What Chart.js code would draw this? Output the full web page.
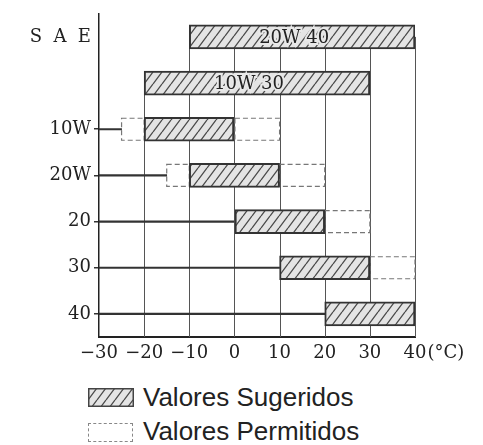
<!DOCTYPE html>
<html><head><meta charset="utf-8">
<script src="https://cdn.jsdelivr.net/npm/chart.js@4"></script>
<style>
html,body{margin:0;padding:0;background:#fff;width:483px;height:445px;overflow:hidden;}
#wrap{position:absolute;left:0;top:0;width:483px;height:370px;}
.lg{position:absolute;font-family:"Liberation Sans",Arial,sans-serif;font-size:26px;color:#222;line-height:30px;height:30px;white-space:nowrap;}
#sw2{position:absolute;left:88px;top:423px;width:43px;height:17px;border:1.5px dashed #888;}
</style></head><body>
<div id="wrap"><canvas id="c" width="483" height="370"></canvas></div>
<canvas id="sw1" width="46" height="19" style="position:absolute;left:88px;top:388px;"></canvas>
<div class="lg" id="lg1" style="left:143px;top:382px;"></div>
<div id="sw2"></div>
<div class="lg" id="lg2" style="left:143px;top:416px;"></div>
<script>
// ---- data ----
const categories = ['20W 40','10W 30','10W','20W','20','30','40'];
const yTickLabels = ['S  A  E','','10W','20W','20','30','40'];
const barLabels = ['20W 40','10W 30','','','','',''];
const suggestedFrom = [-10,-20,-20,-10,0,10,20];
const suggestedTo   = [40,30,0,10,20,30,40];
const permittedLowFrom  = [null,null,-25,-15,null,null,null];
const permittedLowTo    = [null,null,-20,-10,null,null,null];
const permittedHighFrom = [null,null,0,10,20,30,null];
const permittedHighTo   = [null,null,10,20,30,40,null];
const leaderTo = [null,null,-25,-15,0,10,20];
const xTickValues = [-30,-20,-10,0,10,20,30,40];
const xTickLabels = ['−30','−20','−10','0','10','20','30','40'];
const xUnit = '(°C)';
const legendLabels = ['Valores Sugeridos','Valores Permitidos'];

const X_MIN = xTickValues[0], X_MAX = xTickValues[xTickValues.length-1];
const SERIF = '"DejaVu Serif", "Liberation Serif", serif';

function makeHatch(){
  const w=9,h=12;
  const c=document.createElement('canvas'); c.width=w; c.height=h;
  const g=c.getContext('2d');
  g.fillStyle='#e4e4e4'; g.fillRect(0,0,w,h);
  g.strokeStyle='#4a4a4a'; g.lineWidth=1.3;
  g.beginPath();
  for(const dx of [-w,0,w]){ g.moveTo(dx,h); g.lineTo(dx+w,0); }
  g.stroke();
  return g.createPattern(c,'repeat');
}
const hatch = makeHatch();

// legend (HTML)
document.getElementById('lg1').textContent = legendLabels[0];
document.getElementById('lg2').textContent = legendLabels[1];
(function(){
  const c=document.getElementById('sw1'), g=c.getContext('2d');
  g.fillStyle=makeHatch(); g.fillRect(1,1,44,17);
  g.strokeStyle='#444'; g.lineWidth=1.5; g.strokeRect(0.75,0.75,44.5,17.5);
})();

const toRange = (a,b) => a.map((v,i)=> (v==null||b[i]==null) ? null : [v,b[i]]);

const gridPlugin = {
  id:'partialGrid',
  beforeDatasetsDraw(chart){
    const {ctx, chartArea} = chart, xs=chart.scales.x, ys=chart.scales.y;
    ctx.save();
    ctx.strokeStyle='#555'; ctx.lineWidth=1;
    ctx.beginPath();
    xs.ticks.forEach(t=>{
      const v=t.value; if(v<=xs.min) return;
      const row = suggestedFrom.findIndex((a,i)=> a<=v && v<=suggestedTo[i]);
      if(row<0) return;
      const px=Math.round(xs.getPixelForValue(v))+0.5;
      ctx.moveTo(px, ys.getPixelForValue(row));
      ctx.lineTo(px, chartArea.bottom);
    });
    ctx.stroke();
    ctx.restore();
  }
};
const dashPlugin = {
  id:'dashedBoxes',
  beforeDatasetsDraw(chart){
    const ctx=chart.ctx;
    ctx.save();
    ctx.setLineDash([5,3]); ctx.strokeStyle='#777'; ctx.lineWidth=1.2;
    chart.data.datasets.forEach((ds,di)=>{
      if(!ds.dashed) return;
      chart.getDatasetMeta(di).data.forEach((el,j)=>{
        if(ds.data[j]==null) return;
        const p=el.getProps(['x','y','base','height'],true);
        const l=Math.min(p.x,p.base), r=Math.max(p.x,p.base);
        ctx.strokeRect(l, p.y-p.height/2, r-l, p.height);
      });
    });
    ctx.restore();
  }
};
const textPlugin = {
  id:'barText',
  afterDatasetsDraw(chart){
    const ctx=chart.ctx;
    ctx.save();
    ctx.font='18px '+SERIF; ctx.textAlign='center'; ctx.textBaseline='middle';
    chart.getDatasetMeta(0).data.forEach((el,j)=>{
      if(!barLabels[j]) return;
      const p=el.getProps(['x','y','base'],true);
      const cx=(p.x+p.base)/2 - 8;
      ctx.lineWidth=4; ctx.strokeStyle='#e8e8e8'; ctx.strokeText(barLabels[j],cx,p.y+1);
      ctx.fillStyle='#222'; ctx.fillText(barLabels[j],cx,p.y+1);
    });
    ctx.restore();
  },
  afterDraw(chart){
    const ctx=chart.ctx, xs=chart.scales.x;
    const items = xs.getLabelItems ? xs.getLabelItems() : null;
    ctx.save();
    ctx.font='18px '+SERIF; ctx.fillStyle='#222'; ctx.textAlign='left';
    const lastW = ctx.measureText(xTickLabels[xTickLabels.length-1]).width;
    let x = xs.getPixelForValue(X_MAX) + lastW/2 + 1, y = xs.top + 15;
    if(items && items.length){
      const it=items[items.length-1];
      ctx.textBaseline = it.options.textBaseline || 'middle';
      y = it.options.translation[1] + (it.textOffset||0);
    } else ctx.textBaseline='middle';
    ctx.fillText(xUnit, x, y);
    ctx.restore();
  }
};

new Chart(document.getElementById('c'), {
  type:'bar',
  data:{
    labels: categories,
    datasets:[
      {label:legendLabels[0], data:toRange(suggestedFrom,suggestedTo), backgroundColor:hatch, borderColor:'#333', borderWidth:2, borderSkipped:false, barThickness:24, grouped:false},
      {label:legendLabels[1], data:toRange(permittedLowFrom,permittedLowTo), backgroundColor:'rgba(0,0,0,0)', borderWidth:0, barThickness:22, grouped:false, dashed:true},
      {label:legendLabels[1], data:toRange(permittedHighFrom,permittedHighTo), backgroundColor:'rgba(0,0,0,0)', borderWidth:0, barThickness:22, grouped:false, dashed:true},
      {label:'leader', data:leaderTo.map(v=> v==null?null:[X_MIN,v]), backgroundColor:'#333', borderWidth:0, barThickness:1.5, grouped:false}
    ]
  },
  options:{
    indexAxis:'y', responsive:false, animation:false, devicePixelRatio:1,
    layout:{padding:{top:10,right:68,left:0,bottom:0}},
    plugins:{legend:{display:false}, tooltip:{enabled:false}},
    scales:{
      x:{type:'linear', min:X_MIN, max:X_MAX,
         afterFit(s){ s.height=33; },
         afterBuildTicks(s){ s.ticks = xTickValues.map(v=>({value:v})); },
         ticks:{autoSkip:false, maxRotation:0, padding:6, color:'#222', font:{family:SERIF,size:18},
                callback:(v)=>{ const i=xTickValues.indexOf(v); return i>=0?xTickLabels[i]:''; }},
         grid:{display:true, drawOnChartArea:false, drawTicks:false},
         border:{display:true, color:'#222', width:2}},
      y:{type:'category', offset:true,
         afterFit(s){ s.width=99; },
         ticks:{autoSkip:false, padding:3, color:'#222', font:{family:SERIF,size:18},
                callback:(v,i)=> yTickLabels[i]},
         grid:{display:true, drawOnChartArea:false, drawTicks:true, tickLength:5, offset:false, lineWidth:1.5,
               color:(c)=> leaderTo[c.index]!=null ? '#333' : 'rgba(0,0,0,0)'},
         border:{display:true, color:'#222', width:1.5}}
    }
  },
  plugins:[gridPlugin, dashPlugin, textPlugin]
});
</script>
</body></html>
